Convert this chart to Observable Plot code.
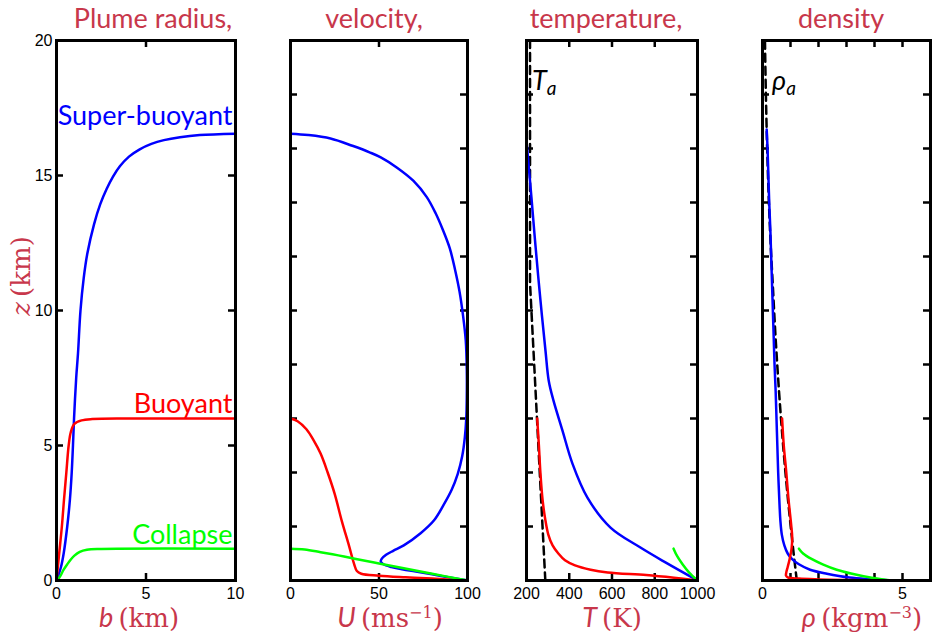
<!DOCTYPE html>
<html><head><meta charset="utf-8">
<script src="https://cdn.jsdelivr.net/npm/d3@7"></script>
<script src="https://cdn.jsdelivr.net/npm/@observablehq/plot@0.6"></script>
<style>
body{margin:0;background:#fff;}
#chart{position:relative;width:933px;height:634px;overflow:hidden;background:#fff;}
#chart svg{position:absolute;left:0;top:0;overflow:visible;}
.ttl{position:absolute;color:#c8374b;font-family:Lato,sans-serif;font-size:27px;line-height:1;white-space:nowrap;transform:translateX(-50%);}
.xl{position:absolute;color:#c8374b;font-size:26px;line-height:1;white-space:nowrap;transform:translateX(-50%);}
.xl i{font-family:Lato,sans-serif;font-style:italic;font-size:27px;}
.xl span{font-family:"DejaVu Serif",serif;}
.xl sup{font-size:16px;line-height:0;vertical-align:9px;}
.yl{position:absolute;color:#c8374b;font-size:26px;line-height:1;white-space:nowrap;transform:translate(-50%,-50%) rotate(-90deg);font-family:"DejaVu Serif",serif;}
.amb{position:absolute;color:#000;font-family:Lato,sans-serif;font-style:italic;font-size:27px;line-height:1;white-space:nowrap;}
.amb sub{font-size:19px;vertical-align:-5px;line-height:0;}
</style></head>
<body><div id="chart"></div>
<script>
// ---- data ----
const panelTitles = ["Plume radius,", "velocity,", "temperature,", "density"];
const seriesNames = ["Super-buoyant", "Buoyant", "Collapse"];
const seriesColors = ["#0000ff", "#ff0000", "#00ff00"];

const radiusTicksX = [5];
const radiusLabelsX = [0, 5, 10];
const heightTicksP1 = [5, 10, 15];
const heightLabels = [0, 5, 10, 15, 20];
const heightTicksOther = [2, 4, 6, 8, 10, 12, 14, 16, 18];
const velocityTicksX = [50];
const velocityLabelsX = [0, 50, 100];
const tempTicksX = [400, 600, 800];
const tempLabelsX = [200, 400, 600, 800, 1000];
const densTicksX = [1, 2, 3, 4, 5];
const densLabelsX = [0, 5];

// [b (km), z (km)]
const radiusSuper = [[0,0],[0.25,0.5],[0.4,1],[0.6,2],[0.75,3],[0.85,4],[0.92,5],[0.98,6],[1.1,7.5],[1.2,8.4],[1.34,10],[1.52,11.2],[1.72,12.1],[2.1,13.2],[2.45,13.95],[2.8,14.5],[3.15,14.95],[3.55,15.35],[4.05,15.7],[4.65,15.97],[5.3,16.17],[6.0,16.31],[6.9,16.42],[8.0,16.5],[10,16.55]];
const radiusBuoy = [[0,0],[0.15,1],[0.3,2],[0.42,3],[0.55,4],[0.68,5],[0.8,5.5],[1.0,5.8],[1.4,5.93],[2,5.98],[4,6.0],[10,6.0]];
const radiusColl = [[0.05,0],[0.2,0.15],[0.4,0.4],[0.6,0.6],[0.8,0.78],[1.0,0.92],[1.3,1.06],[1.7,1.14],[2.5,1.17],[10,1.18]];

// [U (m/s), z (km)]
const velSuper = [[0,16.55],[10,16.5],[22.6,16.37],[35,16.1],[45,15.85],[51,15.67],[60,15.3],[69.5,14.8],[77,14.2],[82,13.6],[86,13.0],[90,12.3],[93,11.5],[95.5,10.7],[97.5,9.8],[99,8.9],[99.6,7.8],[99.6,6.8],[99.3,6.0],[98.5,5.3],[97,4.6],[94.5,3.95],[91,3.35],[86.5,2.8],[81,2.22],[73.5,1.75],[64,1.3],[58,1.1],[54,0.95],[51.5,0.8],[51,0.7],[52.5,0.6],[57,0.5],[63,0.42],[70,0.34],[80,0.23],[90,0.11],[100,0]];
const velBuoy = [[0,6.0],[4,5.9],[9,5.6],[13,5.2],[17,4.7],[21,4.0],[25,3.2],[29,2.2],[33,1.3],[36,0.6],[37.5,0.35],[40,0.25],[50,0.18],[65,0.12],[80,0.07],[100,0]];
const velColl = [[0,1.18],[8,1.15],[17,1.05],[27,0.93],[37,0.8],[50,0.63],[64,0.45],[80,0.25],[100,0]];

// [T (K), z (km)]
const tempAmbient = [[288,0],[281.5,1],[275,2],[268.5,3],[262,4],[255.5,5],[249,6],[242.5,7],[236,8],[229.5,9],[223,10],[216.5,11],[216.5,12],[216.5,14],[216.5,16],[216.5,18],[216.5,20]];
const tempSuper = [[202,16.1],[212,15.2],[223,14.2],[242,12.4],[265,10.4],[289,8.5],[304,7.4],[326,6.67],[368,5.56],[415,4.33],[485,3.07],[593,1.96],[733,1.22],[850,0.67],[1000,0]];
const tempBuoy = [[250,6.0],[258,5.0],[265,4.0],[275,3.0],[287,2.3],[302,1.7],[322,1.3],[349,1.0],[380,0.75],[427,0.56],[500,0.4],[580,0.3],[760,0.2],[890,0.1],[1000,0]];
const tempColl = [[888,1.18],[905,0.9],[930,0.6],[960,0.3],[1000,0]];

// [rho (kg/m3), z (km)]
const densAmbient = [[1.225,0],[1.112,1],[1.007,2],[0.909,3],[0.819,4],[0.736,5],[0.660,6],[0.590,7],[0.526,8],[0.467,9],[0.414,10],[0.365,11],[0.312,12],[0.267,13],[0.228,14],[0.195,15],[0.166,16],[0.142,17],[0.121,18],[0.103,19],[0.088,20]];
const densSuper = [[0.15,16.7],[0.18,16],[0.21,15],[0.24,14],[0.28,13],[0.31,12],[0.34,11],[0.37,10],[0.4,9],[0.43,8],[0.47,7],[0.5,6],[0.53,5],[0.56,4],[0.6,3],[0.64,2.2],[0.69,1.7],[0.78,1.3],[0.9,1.0],[1.05,0.8],[1.3,0.6],[1.7,0.4],[2.3,0.25],[3.1,0.11],[4.6,0]];
const densBuoy = [[0.7,6.0],[0.76,5],[0.85,4],[0.93,3],[1.03,2],[1.06,1.6],[1.04,1.2],[0.97,0.8],[0.9,0.5],[0.85,0.3],[0.84,0.18],[0.9,0.12],[1.3,0.07],[2.0,0.04],[3.0,0.02],[4.6,0]];
const densColl = [[1.3,1.18],[1.45,1.0],[1.75,0.8],[2.15,0.6],[2.65,0.4],[3.2,0.25],[3.9,0.1],[4.6,0]];

// legend labels in panel 1: [x, z]
const legendPos = [[10,16.9],[10,6.22],[10,1.37]];

// ---- drawing ----
const W = 933, H = 634, TOP = 40, BOTTOM = 580;
const chart = document.getElementById("chart");

function panel({left, right, xDomain, xTicks, xLabels, yTicks, yLabels, series, ambient, extra = []}) {
  const fw = right - left, fh = BOTTOM - TOP, tl = 7;
  const tick = {stroke: "black", strokeWidth: 2.5};
  const marks = [
    Plot.tickX(xTicks, {x: d => d, insetTop: fh - tl, ...tick}),
    Plot.tickX(xTicks, {x: d => d, insetBottom: fh - tl, ...tick}),
    Plot.tickY(yTicks, {y: d => d, insetRight: fw - tl, ...tick}),
    Plot.tickY(yTicks, {y: d => d, insetLeft: fw - tl, ...tick}),
    Plot.axisX(xLabels, {anchor: "bottom", tickSize: 0, tickPadding: 7, fontSize: 16, fontFamily: "Liberation Sans, Arial, sans-serif", fill: "black", label: null, tickFormat: d => String(d)}),
  ];
  if (yLabels) marks.push(Plot.axisY(yLabels, {anchor: "left", tickSize: 0, tickPadding: 4, fontSize: 16, fontFamily: "Liberation Sans, Arial, sans-serif", fill: "black", label: null, tickFormat: d => String(d)}));
  if (ambient) marks.push(Plot.line(ambient, {x: d => d[0], y: d => d[1], stroke: "black", strokeWidth: 2.5, strokeDasharray: "8,5"}));
  series.forEach((s, i) => marks.push(Plot.line(s, {x: d => d[0], y: d => d[1], stroke: seriesColors[i], strokeWidth: 2.5, curve: "catmull-rom"})));
  marks.push(...extra);
  marks.push(Plot.frame({stroke: "black", strokeWidth: 3}));
  const svg = Plot.plot({
    width: W, height: H,
    marginLeft: left, marginRight: W - right, marginTop: TOP, marginBottom: H - BOTTOM,
    style: {background: "transparent", overflow: "visible"},
    x: {domain: xDomain},
    y: {domain: [0, 20], axis: yLabels ? undefined : null},
    marks
  });
  chart.appendChild(svg);
}

panel({left: 56, right: 235, xDomain: [0, 10], xTicks: radiusTicksX, xLabels: radiusLabelsX,
  yTicks: heightTicksP1, yLabels: heightLabels, series: [radiusSuper, radiusBuoy, radiusColl],
  extra: [Plot.text(legendPos, {x: d => d[0], y: d => d[1], text: (d, i) => seriesNames[i], fill: (d, i) => seriesColors[i],
    textAnchor: "end", dx: -3, dy: -8, fontSize: 27, fontFamily: "Lato, sans-serif"})]});
panel({left: 290, right: 467, xDomain: [0, 100], xTicks: velocityTicksX, xLabels: velocityLabelsX,
  yTicks: heightTicksOther, series: [velSuper, velBuoy, velColl]});
panel({left: 526, right: 697, xDomain: [200, 1000], xTicks: tempTicksX, xLabels: tempLabelsX,
  yTicks: heightTicksOther, series: [tempSuper, tempBuoy, tempColl], ambient: tempAmbient});
panel({left: 762, right: 930, xDomain: [0, 6], xTicks: densTicksX, xLabels: densLabelsX,
  yTicks: heightTicksOther, series: [densSuper, densBuoy, densColl], ambient: densAmbient});

// ---- text overlays ----
function addDiv(cls, html, x, y) {
  const d = document.createElement("div");
  d.className = cls; d.innerHTML = html;
  d.style.left = x + "px"; d.style.top = y + "px";
  chart.appendChild(d);
}
const titleX = [153, 374, 606, 841];
panelTitles.forEach((t, i) => addDiv("ttl", t, titleX[i], 4));
addDiv("xl", "<i>b</i><span>\u2009(km)</span>", 139, 603);
addDiv("xl", "<i>U</i><span>\u2009(ms<sup>\u22121</sup>)</span>", 390, 603);
addDiv("xl", "<i>T</i><span>\u2009(K)</span>", 612, 603);
addDiv("xl", "<i>\u03C1</i><span>\u2009(kgm<sup>\u22123</sup>)</span>", 862, 603);
addDiv("yl", "<i>z</i>\u2009(km)", 21, 276);
addDiv("amb", "T<sub>a</sub>", 532, 66);
addDiv("amb", "\u03C1<sub>a</sub>", 772, 66);
</script></body></html>
